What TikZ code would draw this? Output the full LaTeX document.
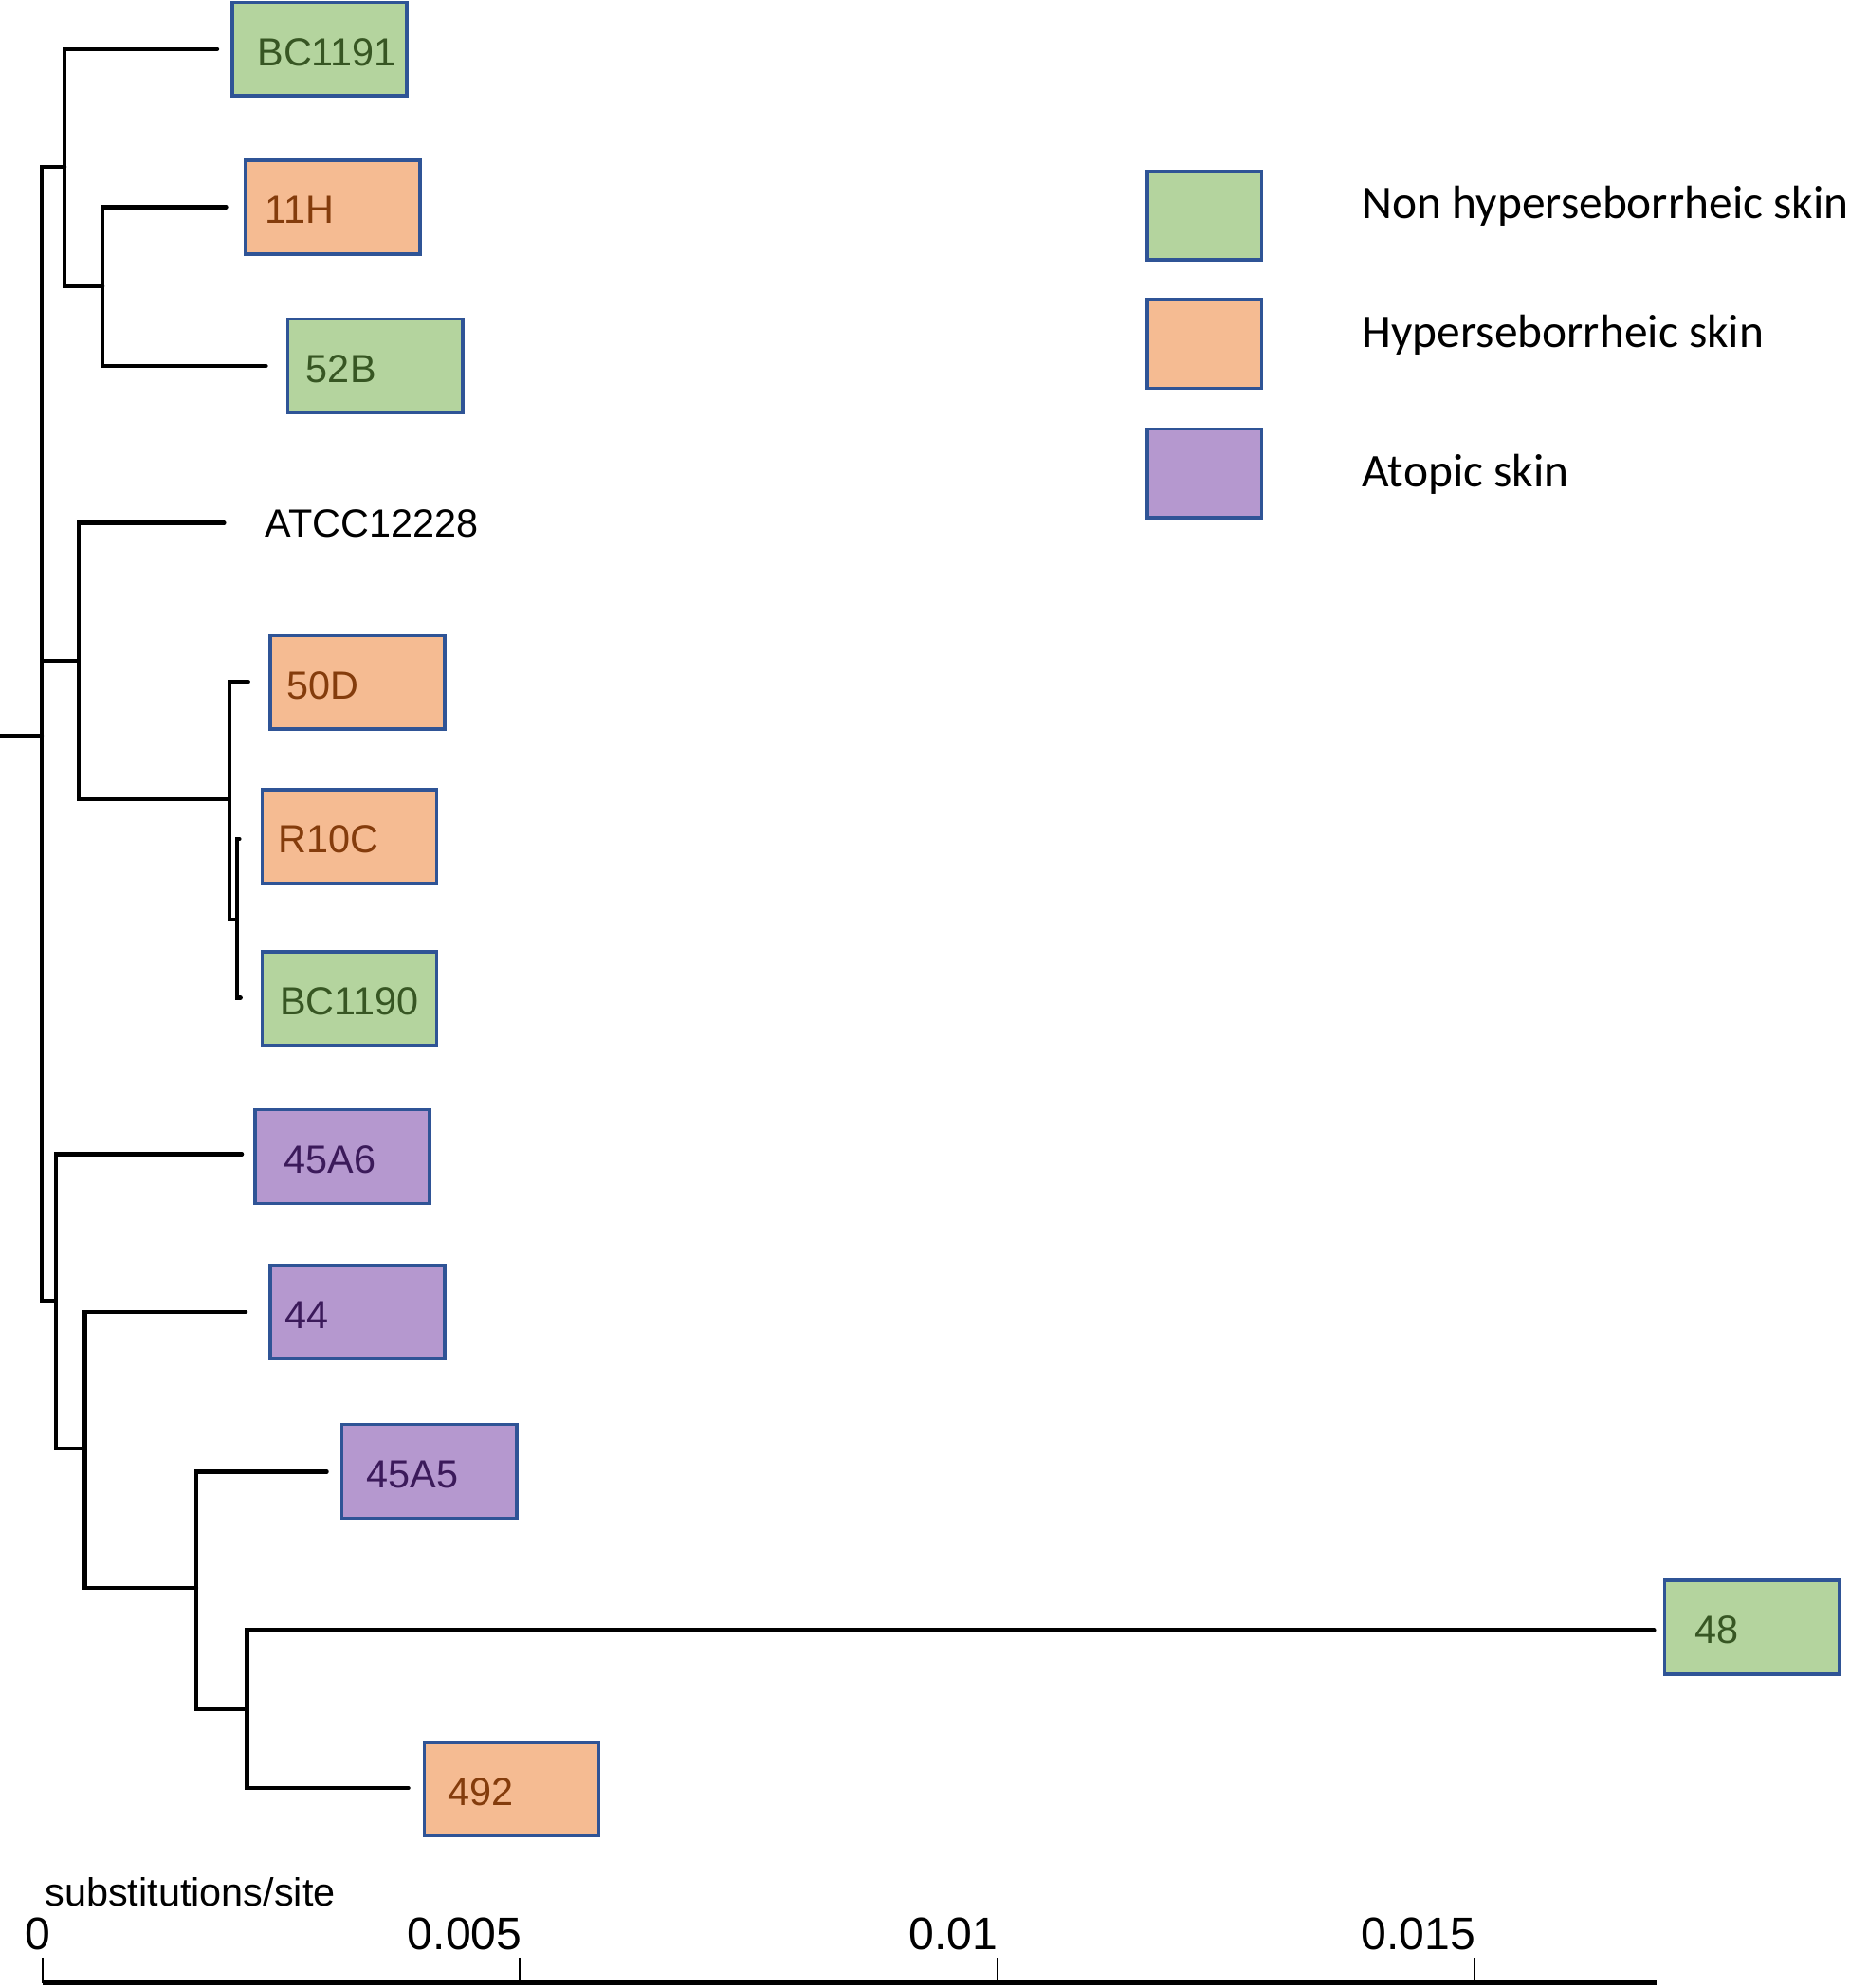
\documentclass[tikz,border=0pt]{standalone}
\usepackage{fontspec}
\setmainfont{Liberation Sans}
\newfontfamily\legendfont{Carlito}
\definecolor{bordblue}{HTML}{2F5496}
\definecolor{grnfill}{HTML}{B4D49E}
\definecolor{grntxt}{HTML}{375623}
\definecolor{pchfill}{HTML}{F5BB92}
\definecolor{pchtxt}{HTML}{843C0C}
\definecolor{purfill}{HTML}{B598CF}
\definecolor{purtxt}{HTML}{3B1A5A}
\newcommand{\labfont}{\fontsize{31}{37}\selectfont}
\newcommand{\tickfont}{\fontsize{36}{42}\selectfont}
\newcommand{\legfont}{\legendfont\fontsize{37}{44}\selectfont}
\newcommand{\ind}[1]{\hspace*{#1pt}}
\begin{document}
\begin{tikzpicture}[x=1pt,y=-1pt,
  br/.style={line width=3.2pt, line cap=round},
  leafbox/.style={draw=bordblue, line width=2.6pt, minimum width=138pt,
    minimum height=74pt, anchor=west, inner xsep=0pt, text width=138pt,
    align=left, text height=26pt, text depth=0pt, font=\labfont},
  grnbox/.style={leafbox, fill=grnfill, text=grntxt},
  pchbox/.style={leafbox, fill=pchfill, text=pchtxt},
  purbox/.style={leafbox, fill=purfill, text=purtxt},
  legbox/.style={draw=bordblue, line width=2.6pt, minimum width=90pt, minimum height=70pt},
  legtext/.style={anchor=base west, font=\legfont},
  axisline/.style={line width=3.5pt},
  tickline/.style={line width=1.6pt},
  ticklab/.style={anchor=base east, font=\tickfont}
]
\useasboundingbox (0,0) rectangle (1460,1570);

% internal nodes
\coordinate (r0) at (0,581);
\coordinate (R) at (33,581);
\coordinate (A) at (51,132);
\coordinate (D) at (81,226);
\coordinate (B) at (62,522);
\coordinate (E) at (181,631.4);
\coordinate (F) at (187,726);
\coordinate (C) at (44,1027);
\coordinate (G) at (67,1144);
\coordinate (H) at (155,1254);
\coordinate (I) at (195,1349.7);

% tips
\coordinate (tbc1191) at (171.5,38.7);
\coordinate (t11h) at (178.6,163.5);
\coordinate (t52b) at (210,289);
\coordinate (tatcc) at (177,413);
\coordinate (t50d) at (196,538.4);
\coordinate (tr10c) at (189,662.6);
\coordinate (tbc1190) at (190,788);
\coordinate (t45a6) at (191,911.5);
\coordinate (t44) at (194,1036);
\coordinate (t45a5) at (258,1162.3);
\coordinate (t48) at (1306,1287.3);
\coordinate (t492) at (322.4,1412.1);

% branches
\draw[br] (r0) -- (R);
\draw[br] (R) |- (A);
\draw[br] (R) |- (B);
\draw[br] (R) |- (C);
\draw[br] (A) |- (tbc1191);
\draw[br] (A) |- (D);
\draw[br] (D) |- (t11h);
\draw[br] (D) |- (t52b);
\draw[br] (B) |- (tatcc);
\draw[br] (B) |- (E);
\draw[br] (E) |- (t50d);
\draw[br] (E) |- (F);
\draw[br] (F) |- (tr10c);
\draw[br] (F) |- (tbc1190);
\draw[br] (C) |- (t45a6);
\draw[br] (C) |- (G);
\draw[br] (G) |- (t44);
\draw[br] (G) |- (H);
\draw[br] (H) |- (t45a5);
\draw[br] (H) |- (I);
\draw[br] (I) |- (t48);
\draw[br] (I) |- (t492);

% leaf boxes
\node[grnbox] (bc1191) at (182,38.7) {\ind{19.9}BC1191};
\node[pchbox] (n11h) at (192.5,163.5) {\ind{15.3}11H};
\node[grnbox] (n52b) at (226,289) {\ind{14.5}52B};
\node[anchor=base west, font=\labfont] (atcc) at (206,424.5) {ATCC12228};
\node[pchbox] (n50d) at (212,538.8) {\ind{13}50D};
\node[pchbox] (r10c) at (205.6,660.6) {\ind{13}R10C};
\node[grnbox] (bc1190) at (205.6,788.5) {\ind{14.1}BC1190};
\node[purbox] (n45a6) at (200,913.5) {\ind{23.2}45A6};
\node[purbox] (n44) at (212,1036) {\ind{11.7}44};
\node[purbox] (n45a5) at (268.7,1162) {\ind{19.5}45A5};
\node[grnbox] (n48) at (1313,1285) {\ind{23.9}48};
\node[pchbox] (n492) at (333.6,1413) {\ind{18.7}492};

% legend
\node[legbox, fill=grnfill] (lg1) at (951,170) {};
\node[legbox, fill=pchfill] (lg2) at (951,271.6) {};
\node[legbox, fill=purfill] (lg3) at (951,373.8) {};
\node[legtext] (lt1) at (1072,172.7) {Non hyperseborrheic skin};
\node[legtext] (lt2) at (1072,274.5) {Hyperseborrheic skin};
\node[legtext] (lt3) at (1072,384.3) {Atopic skin};

% scale axis
\node[anchor=base west, font=\labfont] (axtitle) at (32,1505) {substitutions/site};
\coordinate (ax0) at (33.5,1566);
\coordinate (ax1) at (1308,1566);
\draw[axisline] (ax0) -- (ax1);
\foreach \xx/\lab/\dx [count=\k] in {33.5/0/10, 410.5/0.005/5, 787.5/0.01/4, 1164.5/0.015/4} {
  \coordinate (tk\k) at (\xx,1546);
  \coordinate (tb\k) at (\xx,1566);
  \draw[tickline] (tk\k) -- (tb\k);
  \node[ticklab] (tl\k) at (\xx+\dx,1540) {\lab};
}
\end{tikzpicture}
\end{document}
